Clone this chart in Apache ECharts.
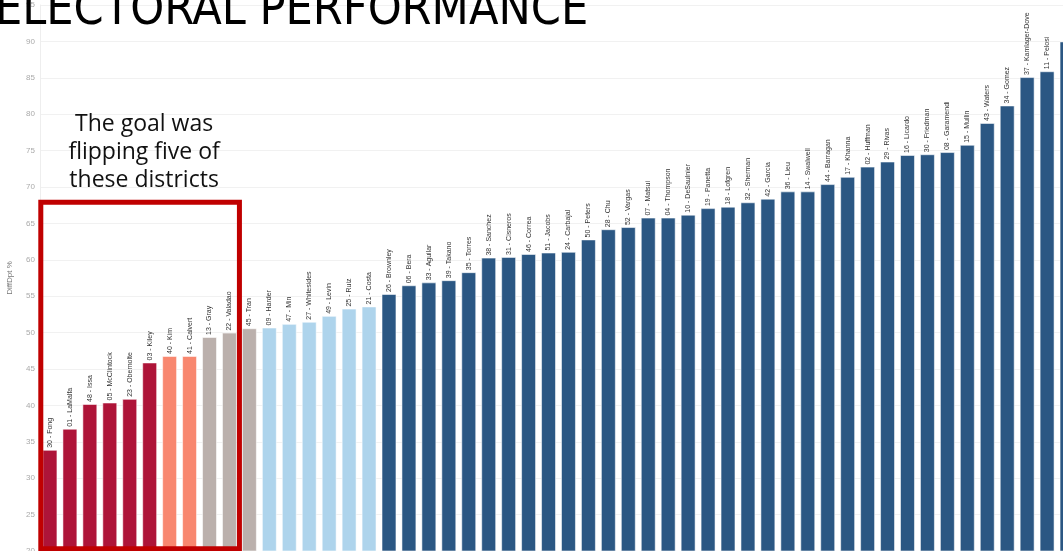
<!DOCTYPE html>
<html>
<head>
<meta charset="utf-8">
<script src="https://cdn.jsdelivr.net/npm/echarts@6/dist/echarts.min.js"></script>
<style>
  html, body { margin: 0; padding: 0; background: #fff; }
  #chart { width: 1063px; height: 551px; }
</style>
</head>
<body>
<div id="chart"></div>
<script>
// districts, sorted by value
const districts = [
  '30 - Fong', '01 - LaMalfa', '48 - Issa', '05 - McClintock', '23 - Obernolte', '03 - Kiley',
  '40 - Kim', '41 - Calvert', '13 - Gray', '22 - Valadao', '45 - Tran',
  '09 - Harder', '47 - Min', '27 - Whitesides', '49 - Levin', '25 - Ruiz', '21 - Costa',
  '26 - Brownley', '06 - Bera', '33 - Aguilar', '39 - Takano', '35 - Torres', '38 - Sanchez',
  '31 - Cisneros', '46 - Correa', '51 - Jacobs', '24 - Carbajal', '50 - Peters', '28 - Chu',
  '52 - Vargas', '07 - Matsui', '04 - Thompson', '10 - DeSaulnier', '19 - Panetta', '18 - Lofgren',
  '32 - Sherman', '42 - Garcia', '36 - Lieu', '14 - Swalwell', '44 - Barragan', '17 - Khanna',
  '02 - Huffman', '29 - Rivas', '16 - Licardo', '30 - Friedman', '08 - Garamendi', '15 - Mullin',
  '43 - Waters', '34 - Gomez', '37 - Kamlager-Dove', '11 - Pelosi', '12 - Simon'
];
const diffDpt = [
  33.9, 36.8, 40.2, 40.4, 40.9, 45.9,
  46.8, 46.8, 49.4, 50.0, 50.6,
  50.7, 51.2, 51.5, 52.3, 53.3, 53.6,
  55.3, 56.5, 56.9, 57.2, 58.3, 60.3,
  60.4, 60.8, 61.0, 61.1, 62.8, 64.2,
  64.5, 65.8, 65.8, 66.2, 67.1, 67.3,
  67.9, 68.4, 69.4, 69.4, 70.4, 71.4,
  72.8, 73.5, 74.4, 74.5, 74.8, 75.8,
  78.8, 81.2, 85.1, 85.9, 90.0
];
// rating group of each district
const groups = [
  'R', 'R', 'R', 'R', 'R', 'R',
  'leanR', 'leanR', 'toss', 'toss', 'toss',
  'leanD', 'leanD', 'leanD', 'leanD', 'leanD', 'leanD'
].concat(Array(35).fill('D'));
const yTicks = [20, 95, 5]; // min, max, step

const colors = { R: '#AE1438', leanR: '#F8876F', toss: '#BBB0AC', leanD: '#AED4EC', D: '#2B5783' };

const chart = echarts.init(document.getElementById('chart'));

const gridW = 1037; // chart runs past the right edge, like the screenshot

const option = {
  animation: false,
  grid: { left: 40, top: 5, width: gridW, height: 546, outerBoundsMode: 'none' },
  xAxis: {
    type: 'category',
    data: districts,
    axisLine: { show: false },
    axisTick: { show: false },
    axisLabel: { show: false }
  },
  yAxis: {
    type: 'value',
    min: yTicks[0],
    max: yTicks[1],
    interval: yTicks[2],
    name: 'DiffDpt %',
    nameLocation: 'middle',
    nameGap: 26,
    nameTextStyle: { fontSize: 8, color: '#777', fontFamily: 'Liberation Sans' },
    axisLine: { show: true, lineStyle: { color: '#eee' } },
    axisTick: { show: false },
    axisLabel: { fontSize: 8, color: '#aaa', margin: 5, fontFamily: 'Liberation Sans' },
    splitLine: { lineStyle: { color: '#f1f1f1' } }
  },
  series: [{
    type: 'bar',
    barCategoryGap: '25%',
    data: diffDpt.map((v, i) => ({
      value: v,
      itemStyle: { color: colors[groups[i]] }
    })),
    itemStyle: { borderColor: 'rgba(255,255,255,0.55)', borderWidth: 1 },
    label: {
      show: true,
      position: 'top',
      rotate: 90,
      align: 'left',
      verticalAlign: 'middle',
      distance: 2,
      fontSize: 7,
      color: '#333',
      fontFamily: 'Liberation Sans',
      formatter: p => districts[p.dataIndex]
    }
  }]
};

chart.setOption(option);

// red box around the first ten districts, placed from the axes
const half = gridW / districts.length / 2;
const topLeft = chart.convertToPixel({ gridIndex: 0 }, [0, 67.9]);
const botRight = chart.convertToPixel({ gridIndex: 0 }, [9, 20.3]);
const boxX = topLeft[0] - half + 0.8;
const boxW = botRight[0] + half - boxX;

chart.setOption({
  graphic: [
    {
      type: 'rect',
      shape: { x: boxX, y: topLeft[1], width: boxW, height: botRight[1] - topLeft[1] },
      style: { fill: 'none', stroke: '#C00000', lineWidth: 5 },
      z: 100
    },
    {
      type: 'text',
      x: boxX + boxW / 2 + 4,
      y: 110,
      style: {
        text: 'The goal was\nflipping five of\nthese districts',
        font: '23px "Open Sans", sans-serif',
        fill: '#111',
        align: 'center',
        lineHeight: 28
      },
      z: 100
    },
    {
      type: 'text',
      x: -5,
      y: 36,
      style: {
        text: 'ELECTORAL PERFORMANCE',
        font: '48px "DejaVu Sans Condensed", sans-serif',
        fill: '#000',
        textVerticalAlign: 'bottom'
      },
      z: 100
    }
  ]
});
</script>
</body>
</html>
